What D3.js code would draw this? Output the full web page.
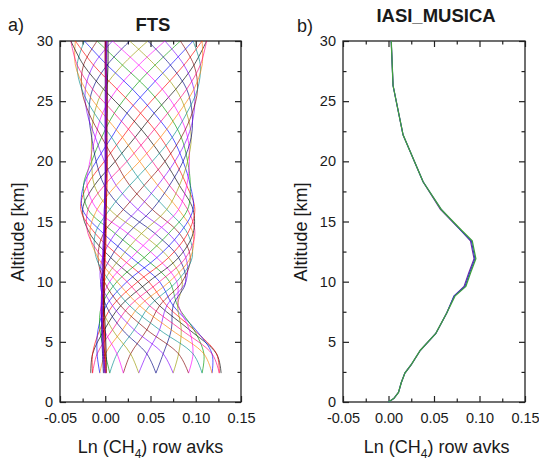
<!DOCTYPE html>
<meta charset="utf-8">
<title>CH4 row averaging kernels</title>
<style>
body {
  margin: 0;
  background: #fff;
}
text {
  font-family: "Liberation Sans", Arial, sans-serif;
  fill: #1a1a1a;
}
.tick line {
  stroke: #222;
  stroke-width: 1.2px;
}
.tick text {
  font-size: 14.5px;
}
.frame {
  fill: none;
  stroke: #222;
  stroke-width: 1.3px;
}
.avk {
  fill: none;
  stroke-width: .65px;
}
</style>
<body>
<script src="https://d3js.org/d3.v7.min.js"></script>
<script>
// panel a: FTS rows (one array per row, values at ftsAlt)
var ftsAlt = [2.4, 4, 6, 8, 10, 12, 14, 16, 18, 20, 22, 24, 26, 28, 30];
var ftsRows = [
  [.128, .123, .093, .060, .036, .006, -.017, -.025, -.012, .011, .033, .054, .078, .098, .112],
  [.126, .123, .098, .068, .048, .017, -.011, -.027, -.020, -.001, .019, .039, .063, .087, .107],
  [.118, .118, .100, .075, .060, .029, -.002, -.025, -.024, -.010, .007, .024, .047, .072, .097],
  [.107, .109, .098, .080, .071, .043, .011, -.019, -.024, -.015, -.004, .010, .030, .055, .083],
  [.092, .097, .093, .081, .079, .057, .025, -.009, -.020, -.017, -.011, -.003, .013, .037, .066],
  [.075, .081, .084, .080, .085, .070, .040, .005, -.012, -.015, -.015, -.012, -.002, .019, .047],
  [.056, .064, .073, .075, .089, .081, .055, .020, -.001, -.010, -.015, -.018, -.014, .002, .027],
  [.037, .046, .060, .068, .089, .089, .070, .036, .012, -.001, -.011, -.020, -.022, -.013, .008],
  [.020, .028, .046, .060, .085, .094, .082, .052, .027, .011, -.004, -.018, -.026, -.024, -.009],
  [.005, .013, .032, .049, .079, .096, .091, .068, .043, .024, .007, -.012, -.026, -.031, -.023],
  [-.006, .000, .019, .038, .071, .094, .097, .081, .058, .038, .019, -.003, -.022, -.033, -.033],
  [-.014, -.009, .008, .027, .060, .089, .099, .091, .071, .052, .033, .010, -.014, -.031, -.038],
  [-.016, -.014, -.001, .017, .048, .081, .097, .097, .082, .066, .047, .024, -.002, -.024, -.038],
  [-.014, -.014, -.006, .008, .036, .070, .091, .099, .090, .077, .061, .039, .013, -.013, -.033],
  [-.006, -.009, -.008, .001, .024, .057, .082, .097, .094, .086, .074, .054, .030, .002, -.023],
  [.005, .000, -.006, -.004, .013, .043, .070, .091, .094, .091, .084, .069, .047, .019, -.009],
  [.020, .013, -.001, -.005, .005, .029, .055, .081, .090, .093, .091, .081, .063, .037, .008],
  [.037, .028, .008, -.004, -.001, .017, .040, .068, .082, .091, .095, .090, .078, .055, .027],
  [.056, .046, .019, .001, -.005, .006, .025, .052, .071, .086, .095, .096, .090, .072, .047],
  [.075, .064, .032, .008, -.005, -.003, .011, .036, .058, .077, .091, .098, .098, .087, .066],
  [.092, .081, .046, .017, -.001, -.008, -.002, .020, .043, .066, .084, .096, .102, .098, .083],
  [.107, .097, .060, .027, .005, -.010, -.011, .005, .027, .052, .074, .090, .102, .105, .097],
  [.118, .109, .073, .038, .013, -.008, -.017, -.009, .012, .038, .061, .081, .098, .107, .107],
  [.126, .118, .084, .049, .024, -.003, -.019, -.019, -.001, .024, .047, .069, .090, .105, .112]
];
// rows that stay close to zero
var ftsFlat = [
  [-.002, -.003, -.004, -.004, -.003, -.002, -.001, -.001, .000, .000, .000, .000, .000, .000, .000],
  [.001, .001, .000, -.001, -.001, -.001, .000, .000, .000, .001, .001, .002, .002, .003, .003],
  [.001, .000, -.001, -.002, -.001, .000, .001, .001, .002, .002, .001, .001, .001, .000, .000],
  [.000, -.001, -.002, -.002, -.002, -.001, .000, .001, .001, .002, .002, .002, .002, .001, .001],
  [.000, -.002, -.003, -.004, -.004, -.003, -.002, -.001, .000, .000, .000, .000, .001, .001, .002],
  [-.001, -.002, -.003, -.003, -.003, -.002, -.001, .000, .000, .001, .001, .001, .001, .001, .001]
];
var ftsColors = ["#000000", "#ff0000", "#0000ff", "#009900", "#ff00ff", "#999900",
                 "#000080", "#8000ff", "#800000", "#008b8b", "#ff8000", "#ff0080"];
var flatColors = ["#000080", "#000000", "#ff0000", "#800000", "#8000ff", "#7a00b0"];

// panel b: IASI_MUSICA
var musicaAlt = [0, 0.3, 0.8, 1.6, 2.4, 3.1, 4.3, 5.7, 7.4, 8.8, 9.6, 10.7, 11.9, 13.4, 14.3, 16.0, 18.3, 22.2, 26.3, 30];
var musicaPurple = [0, .006, .011, .014, .018, .025, .035, .052, .064, .072, .083, .088, .094, .090, .079, .057, .038, .016, .005, .003];
var musicaBlue   = [0, .006, .011, .014, .018, .025, .035, .052, .064, .072, .084, .089, .095, .091, .079, .058, .038, .016, .005, .003];
var musicaGreen  = [0, .006, .011, .014, .018, .025, .035, .052, .064, .073, .085, .090, .096, .092, .080, .058, .038, .016, .005, .003];

var yTicks = [0, 5, 10, 15, 20, 25, 30],
    yMinor = [2.5, 7.5, 12.5, 17.5, 22.5, 27.5],
    xTicks = [-0.05, 0, 0.05, 0.1, 0.15],
    xMinor = [-0.025, 0.025, 0.075, 0.125];

var w = 539, h = 461;
var svg = d3.select("body").append("svg")
    .attr("width", w)
    .attr("height", h);

function panel(left, right, top, bottom) {
  var x = d3.scaleLinear().domain([-0.05, 0.15]).range([left, right]),
      y = d3.scaleLinear().domain([0, 30]).range([bottom, top]);
  var g = svg.append("g");

  g.append("g").attr("transform", "translate(" + left + ",0)")
      .call(d3.axisLeft(y).tickValues(yTicks).tickSize(-6).tickPadding(7).tickFormat(d3.format("d")));
  g.append("g").attr("transform", "translate(" + left + ",0)")
      .call(d3.axisLeft(y).tickValues(yMinor).tickSize(-3.5).tickFormat(""));
  g.append("g").attr("transform", "translate(" + right + ",0)")
      .call(d3.axisRight(y).tickValues(yTicks).tickSize(-6).tickFormat(""));
  g.append("g").attr("transform", "translate(" + right + ",0)")
      .call(d3.axisRight(y).tickValues(yMinor).tickSize(-3.5).tickFormat(""));
  g.append("g").attr("transform", "translate(0," + bottom + ")")
      .call(d3.axisBottom(x).tickValues(xTicks).tickSize(-6).tickPadding(10.5)
        .tickFormat(function(d) { return d.toFixed(2); }));
  g.append("g").attr("transform", "translate(0," + bottom + ")")
      .call(d3.axisBottom(x).tickValues(xMinor).tickSize(-3.5).tickFormat(""));
  g.append("g").attr("transform", "translate(0," + top + ")")
      .call(d3.axisTop(x).tickValues(xTicks).tickSize(-6).tickFormat(""));
  g.append("g").attr("transform", "translate(0," + top + ")")
      .call(d3.axisTop(x).tickValues(xMinor).tickSize(-3.5).tickFormat(""));
  g.selectAll(".domain").remove();

  g.append("rect").attr("class", "frame")
      .attr("x", left).attr("y", top)
      .attr("width", right - left).attr("height", bottom - top);
  return {x: x, y: y, g: g};
}

function xLabel(cx) {
  var t = svg.append("text")
      .attr("x", cx).attr("y", 453)
      .attr("text-anchor", "middle")
      .style("font-size", "18px");
  t.append("tspan").text("Ln (CH");
  t.append("tspan").attr("dy", 5).style("font-size", "12px").text("4");
  t.append("tspan").attr("dy", -5).text(") row avks");
}

function yLabel(bx) {
  svg.append("text")
      .attr("transform", "translate(" + bx + ",232)rotate(-90)")
      .attr("text-anchor", "middle")
      .style("font-size", "18px")
      .text("Altitude [km]");
}

function title(cx, by, s) {
  svg.append("text")
      .attr("x", cx).attr("y", by)
      .attr("text-anchor", "middle")
      .style("font-size", "18.5px")
      .style("font-weight", "bold")
      .text(s);
}

// a) FTS
var a = panel(60, 241, 41, 402);
var lineA = d3.line()
    .x(function(d, i) { return a.x(d); })
    .y(function(d, i) { return a.y(ftsAlt[i]); })
    .curve(d3.curveCatmullRom.alpha(0.5));

a.g.selectAll(".row")
    .data(ftsRows)
  .enter().append("path")
    .attr("class", "avk")
    .attr("d", lineA)
    .style("stroke", function(d, i) { return ftsColors[i % ftsColors.length]; });
a.g.selectAll(".flat")
    .data(ftsFlat)
  .enter().append("path")
    .attr("class", "avk")
    .attr("d", lineA)
    .style("stroke", function(d, i) { return flatColors[i]; })
    .style("stroke-width", ".8px");

title(153, 31, "FTS");
svg.append("text").attr("x", 8).attr("y", 31).style("font-size", "18px").text("a)");
yLabel(23.5);
xLabel(150.5);

// b) IASI_MUSICA
var b = panel(343, 525, 41, 402);
var lineB = d3.line()
    .x(function(d) { return b.x(d); })
    .y(function(d, i) { return b.y(musicaAlt[i]); });

b.g.append("path").attr("class", "avk").attr("d", lineB(musicaPurple))
    .style("stroke", "#7030a0").style("stroke-width", "1.1px");
b.g.append("path").attr("class", "avk").attr("d", lineB(musicaBlue))
    .style("stroke", "#3333cc").style("stroke-width", "1.1px");
b.g.append("path").attr("class", "avk").attr("d", lineB(musicaGreen))
    .style("stroke", "#3f9f3f").style("stroke-width", "1.3px");

title(436, 22, "IASI_MUSICA");
svg.append("text").attr("x", 297).attr("y", 32).style("font-size", "18px").text("b)");
yLabel(307);
xLabel(436.7);
</script>
